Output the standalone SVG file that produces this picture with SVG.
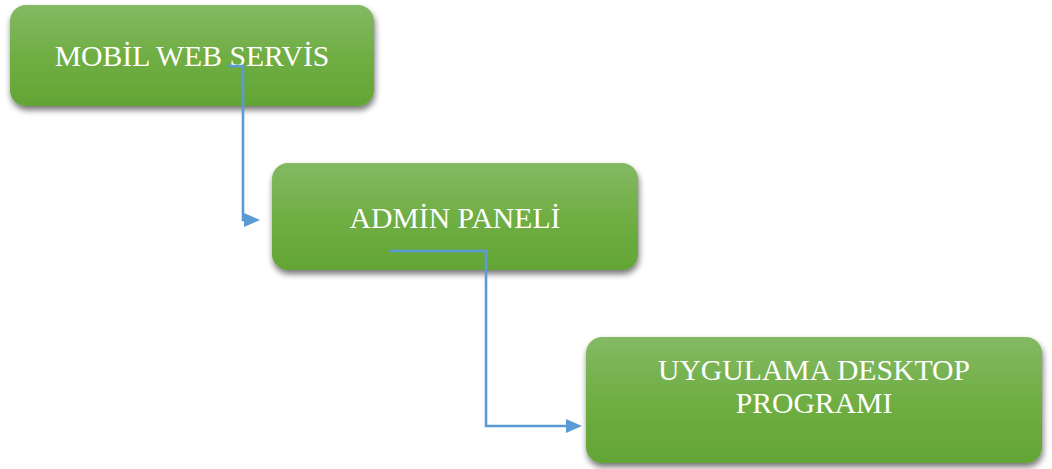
<svg xmlns="http://www.w3.org/2000/svg" width="1052" height="469" viewBox="0 0 1052 469">
  <style>
    .box { fill: url(#green); filter: url(#shadow); }
    .label { font-family: "Liberation Serif", "Times New Roman", serif; font-size: 29.7px; fill: #ffffff; text-anchor: middle; }
    .link { fill: none; stroke: #5b9bd5; stroke-width: 2.6; marker-end: url(#arrow); }
  </style>
  <defs>
    <linearGradient id="green" x1="0" y1="0" x2="0" y2="1">
      <stop offset="0" stop-color="#83b964"/>
      <stop offset="0.5" stop-color="#70ae44"/>
      <stop offset="1" stop-color="#63a535"/>
    </linearGradient>
    <filter id="shadow" x="-10%" y="-20%" width="125%" height="150%">
      <feGaussianBlur in="SourceAlpha" stdDeviation="3"/>
      <feOffset dx="1" dy="4" result="blur"/>
      <feComponentTransfer>
        <feFuncA type="linear" slope="0.55"/>
      </feComponentTransfer>
      <feMerge>
        <feMergeNode/>
        <feMergeNode in="SourceGraphic"/>
      </feMerge>
    </filter>
    <marker id="arrow" viewBox="0 0 16 14" refX="0" refY="7" markerWidth="16" markerHeight="14" markerUnits="userSpaceOnUse" orient="auto">
      <path d="M0,0 L16,7 L0,14 Z" fill="#5b9bd5"/>
    </marker>
  </defs>

  <!-- nodes -->
  <g id="mobil-web-servis">
    <rect class="box" x="10" y="5" width="364" height="101" rx="16"/>
    <text class="label" x="192" y="66">MOBİL WEB SERVİS</text>
  </g>
  <g id="admin-paneli">
    <rect class="box" x="272" y="163" width="366" height="107" rx="16"/>
    <text class="label" x="455" y="228">ADMİN PANELİ</text>
  </g>
  <g id="uygulama-desktop-programi">
    <rect class="box" x="586" y="337" width="456" height="126" rx="16"/>
    <text class="label" x="814" y="380">UYGULAMA DESKTOP</text>
    <text class="label" x="814" y="413">PROGRAMI</text>
  </g>

  <!-- connectors -->
  <g id="connectors">
    <path class="link" d="M228,66 H243 V220 H244"/>
    <path class="link" d="M390,251 H486 V426 H566"/>
  </g>
</svg>
